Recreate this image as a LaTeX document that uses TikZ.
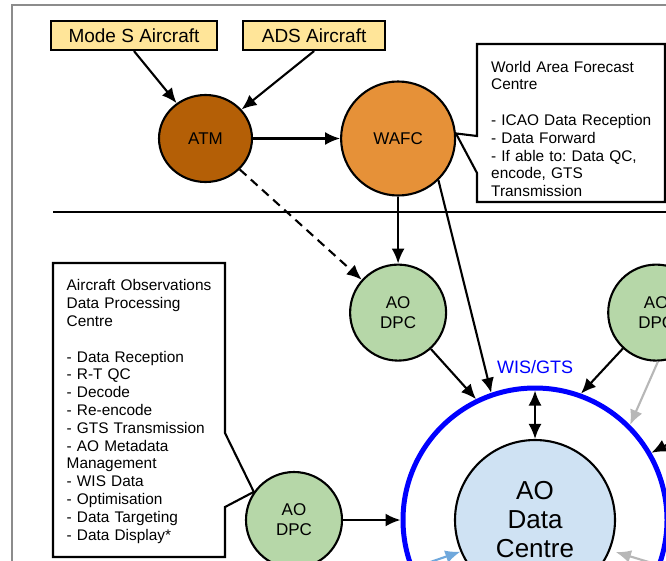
\documentclass[tikz,border=0pt]{standalone}
\usepackage{fontspec}
\setmainfont{Liberation Sans}
\frenchspacing
\usepackage{tikz}
\usetikzlibrary{shapes.geometric,arrows.meta,positioning,calc}

\definecolor{feedfill}{HTML}{FFE599}
\definecolor{atmfill}{HTML}{B45F06}
\definecolor{wafcfill}{HTML}{E69138}
\definecolor{dpcfill}{HTML}{B6D7A8}
\definecolor{adcfill}{HTML}{CFE2F3}
\definecolor{framegray}{HTML}{8C8C8C}
\definecolor{feedgray}{HTML}{B7B7B7}
\definecolor{feedblue}{HTML}{6FA8DC}

\tikzstyle{line} = [draw, line width=2.1pt, -{Latex[length=15pt,width=13pt]}]
\tikzstyle{both} = [{Latex[length=15pt,width=13pt]}-{Latex[length=15pt,width=13pt]}]
\tikzstyle{feed} = [draw, rectangle, line width=2.1pt, fill=feedfill, minimum height=29pt, inner sep=0pt, font=\fontsize{19}{22}\selectfont]
\tikzstyle{centre} = [draw, circle, line width=2.1pt, inner sep=0pt, font=\fontsize{17}{20}\selectfont]
\tikzstyle{dpc} = [centre, fill=dpcfill, minimum size=96pt, align=center]
\tikzstyle{note} = [inner sep=0pt, anchor=north west, text width=170pt, align=left, font=\fontsize{15.4}{17.8}\selectfont]
\tikzstyle{outline} = [draw, line width=2.1pt, line join=miter]

\begin{document}
\begin{tikzpicture}[x=1pt, y=-1pt]
    \useasboundingbox (0,0) rectangle (666,560);
    \clip (0,0) rectangle (666,560);
    \fill [white] (0,0) rectangle (666,560);
    \draw [framegray, line width=1.5pt] (12,580) -- (12,5) -- (680,5);
    \draw [line width=2.1pt] (53,212) -- (680,212);

    % sources and ATM / WAFC
    \node [feed, minimum width=166pt] (modes) at (134,35.5) {Mode S Aircraft};
    \node [feed, minimum width=142pt, right=24pt of modes] (ads) {ADS Aircraft};
    \node [centre, ellipse, fill=atmfill, minimum width=93pt, minimum height=87pt] (atm) at (205.5,138.5) {ATM};
    \node [centre, fill=wafcfill, minimum size=114pt, right=87pt of atm] (wafc) {WAFC};

    % data processing centres
    \node [dpc, below=67pt of wafc] (dpcmid) {AO\\DPC};
    \node [dpc, right=160pt of dpcmid] (dpcright) {AO\\DPC};
    \node [dpc] (dpcleft) at (294,520) {AO\\DPC};

    % AO data centre on WIS/GTS
    \node [centre, fill=adcfill, minimum size=160pt, align=center, font=\fontsize{26}{29}\selectfont] (adc) at (535,520) {AO\\Data\\Centre};
    \node [circle, draw=blue, line width=5pt, minimum size=264pt] (ring) at (adc) {};
    \node [text=blue, font=\fontsize{18}{20}\selectfont] (wis) at (535,367) {WIS/GTS};

    % notes
    \node [note] (wafcnote) at (491,60.8) {World Area Forecast\\Centre\\[17.8pt]- ICAO Data Reception\\- Data Forward\\- If able to: Data QC,\\encode, GTS\\Transmission};
    \draw [outline] (477,136) -- (477,44) -- (665,44) -- (665,202) -- (477,202) -- (477,173) -- (wafc.5) -- cycle;
    \node [note, text width=155pt] (aonote) at (66.5,279.5) {Aircraft Observations\\Data Processing\\Centre\\[17.8pt]- Data Reception\\- R-T QC\\- Decode\\- Re-encode\\- GTS Transmission\\- AO Metadata\\Management\\- WIS Data\\- Optimisation\\- Data Targeting\\- Data Display*};
    \draw [outline] (225,433) -- (225,263) -- (53,263) -- (53,557) -- (225,557) -- (225,507) -- (dpcleft.145) -- cycle;

    \coordinate (offright) at (705,425);
    \coordinate (offbl) at (410,569);
    \coordinate (offbr) at (662,566);

    \path [line] (modes.south) -- (atm);
    \path [line] (ads.south) -- (atm);
    \path [line] (atm) -- (wafc);
    \path [line, dash pattern=on 9pt off 6pt] (atm) -- (dpcmid);
    \path [line] (wafc) -- (dpcmid);
    \path [line] (wafc.-46) -- (ring.109);
    \path [line] (dpcmid) -- (ring.116);
    \path [line] (dpcright) -- (ring.70);
    \path [line, draw=feedgray] (dpcright.-88) -- (ring.45);
    \path [line] (offright) -- (ring.30);
    \path [line] (dpcleft) -- (ring);
    \path [line, both, shorten <=5pt] (ring.north) -- (adc.north);
    \path [line, draw=feedblue] (offbl) -- (adc.203);
    \path [line, draw=feedgray, shorten >=6pt] (offbr) -- (adc.-22);
\end{tikzpicture}
\end{document}
